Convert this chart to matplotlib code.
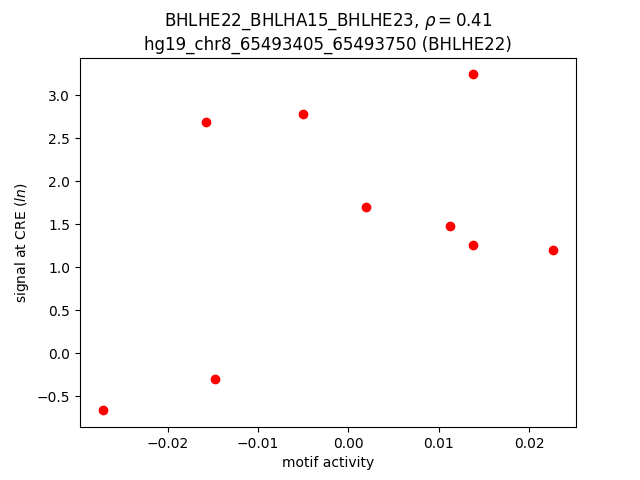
import matplotlib
matplotlib.use('Agg')
import matplotlib.pyplot as plt

# motif activity vs CRE signal
motif_activity = [-0.0272, -0.0158, -0.0147, -0.0050, 0.0020, 0.0113, 0.0138, 0.0138, 0.0227]
cre_signal = [-0.665, 2.685, -0.295, 2.775, 1.697, 1.475, 3.240, 1.255, 1.198]

motif_name = 'BHLHE22_BHLHA15_BHLHE23'
rho = 0.41
cre_name = 'hg19_chr8_65493405_65493750 (BHLHE22)'

fig, ax = plt.subplots(figsize=(6.4, 4.8), dpi=100)
ax.scatter(motif_activity, cre_signal, c='red')
ax.set_title(f'{motif_name}, $\\rho = {rho}$\n{cre_name}')
ax.set_xlabel('motif activity')
ax.set_ylabel('signal at CRE ($ln$)')

fig.savefig('out.png')
